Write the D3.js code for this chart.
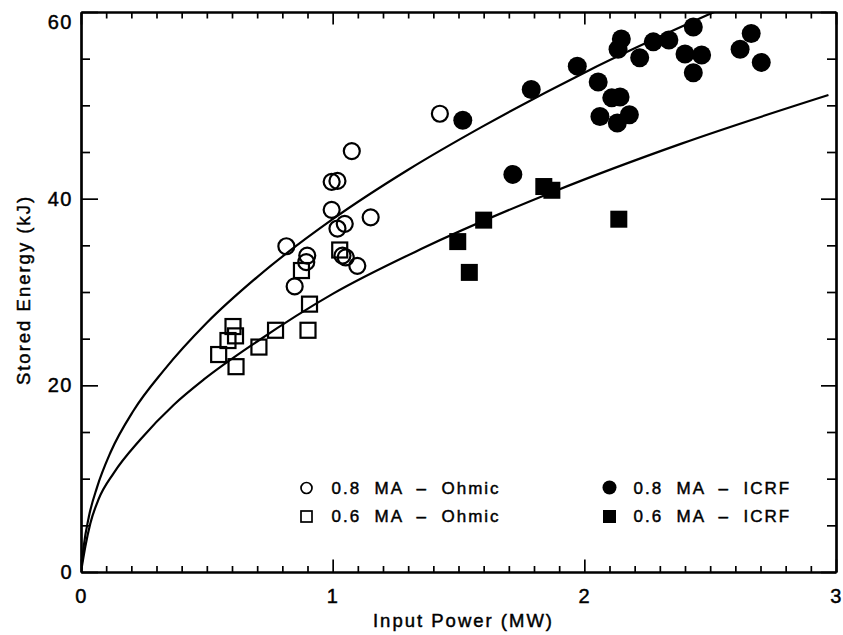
<!DOCTYPE html>
<html>
<head>
<meta charset="utf-8">
<script src="https://cdn.jsdelivr.net/npm/d3@7"></script>
<style>
  html, body { margin: 0; padding: 0; background: #fff; }
  svg text { font-family: "Liberation Sans", Arial, sans-serif; fill: #000; stroke: #000; stroke-width: 0.45px; }
</style>
</head>
<body>
<svg id="chart" width="843" height="635"></svg>
<script>
// --- data: [input power MW, stored energy kJ] ---
const ohmic08 = [[0.816, 34.9], [0.899, 33.9], [0.895, 33.2], [0.849, 30.6], [0.996, 38.8],
  [0.996, 41.8], [1.019, 41.9], [1.076, 45.1], [1.048, 37.3], [1.019, 36.8], [1.151, 38.0],
  [1.039, 33.9], [1.052, 33.7], [1.098, 32.8], [1.426, 49.1]];
const ohmic06 = [[1.028, 34.5], [0.876, 32.3], [0.908, 28.7], [0.902, 25.9], [0.773, 25.9],
  [0.707, 24.1], [0.604, 26.3], [0.614, 25.3], [0.584, 24.8], [0.547, 23.3], [0.616, 22.0]];
const icrf08 = [[1.517, 48.4], [1.789, 51.7], [1.972, 54.2], [2.055, 52.5], [2.147, 57.1],
  [2.134, 56.0], [2.220, 55.1], [2.274, 56.8], [2.336, 57.0], [2.433, 58.4], [2.400, 55.5],
  [2.466, 55.4], [2.433, 53.5], [2.619, 56.0], [2.663, 57.7], [2.703, 54.6], [2.109, 50.8],
  [2.142, 50.9], [2.062, 48.8], [2.179, 49.0], [2.131, 48.1], [1.716, 42.6]];
const icrf06 = [[1.497, 35.4], [1.543, 32.1], [1.600, 37.7], [1.839, 41.3], [1.871, 40.9], [2.137, 37.8]];

// fitted curves, points
const fit08 = [[0, 0], [0.011, 2.8], [0.031, 5.9], [0.064, 9.1], [0.117, 12.8], [0.209, 17.3],
  [0.329, 21.6], [0.5, 26.7], [0.7, 31.6], [1.0, 37.8], [1.3, 43.1], [1.6, 47.8],
  [2.0, 53.5], [2.5, 59.8], [2.55, 60.4]];
const fit06 = [[0, 0], [0.017, 2.7], [0.037, 5.2], [0.070, 7.8], [0.130, 10.6], [0.236, 14.2],
  [0.368, 17.9], [0.487, 20.6], [0.7, 24.7], [1.0, 29.8], [1.351, 34.6], [1.882, 40.8],
  [2.386, 45.9], [2.97, 51.1]];

const xTicks = [0, 1, 2, 3];
const yTicks = [0, 20, 40, 60];
const legendItems = [
  { label: "0.8  MA  \u2013  Ohmic", shape: "circle", filled: false },
  { label: "0.6  MA  \u2013  Ohmic", shape: "square", filled: false },
  { label: "0.8  MA  \u2013  ICRF", shape: "circle", filled: true },
  { label: "0.6  MA  \u2013  ICRF", shape: "square", filled: true }
];

// --- layout ---
const plotLeft = 81, plotRight = 836, plotTop = 12, plotBottom = 572;
const svg = d3.select("#chart");

const x = d3.scaleLinear().domain([0, 3]).range([plotLeft, plotRight]);
const y = d3.scaleLinear().domain([0, 60]).range([plotBottom, plotTop]);

const xMinor = d3.range(0, 3.001, 0.1).filter(v => Math.abs(v - Math.round(v)) > 1e-6);
const yMinor = d3.range(0, 60.001, 5).filter(v => v % 20 !== 0);

function styleAxis(g) {
  g.selectAll("path.domain").attr("stroke", "#000").attr("stroke-width", 2.2);
  g.selectAll(".tick line").attr("stroke", "#000").attr("stroke-width", 1.7);
  g.selectAll("text").attr("font-family", null).attr("font-size", 20)
    .style("letter-spacing", "1.5px");
}

// bottom
svg.append("g").attr("transform", `translate(0,${plotBottom})`)
  .call(d3.axisBottom(x).tickValues(xMinor).tickSize(-6).tickSizeOuter(0).tickFormat(""))
  .call(styleAxis);
svg.append("g").attr("transform", `translate(0,${plotBottom})`)
  .call(d3.axisBottom(x).tickValues(xTicks).tickSize(-12.5).tickSizeOuter(0).tickPadding(17)
    .tickFormat(d3.format("d")))
  .call(styleAxis);
// top
svg.append("g").attr("transform", `translate(0,${plotTop})`)
  .call(d3.axisTop(x).tickValues(xMinor).tickSize(-6.5).tickSizeOuter(0).tickFormat(""))
  .call(styleAxis);
svg.append("g").attr("transform", `translate(0,${plotTop})`)
  .call(d3.axisTop(x).tickValues(xTicks).tickSize(-12.5).tickSizeOuter(0).tickFormat(""))
  .call(styleAxis);
// left
svg.append("g").attr("transform", `translate(${plotLeft},0)`)
  .call(d3.axisLeft(y).tickValues(yMinor).tickSize(-9).tickSizeOuter(0).tickFormat(""))
  .call(styleAxis);
const yAxisG = svg.append("g").attr("transform", `translate(${plotLeft},0)`)
  .call(d3.axisLeft(y).tickValues(yTicks).tickSize(-17).tickSizeOuter(0).tickPadding(8)
    .tickFormat(d3.format("d")))
  .call(styleAxis);
yAxisG.selectAll(".tick text").filter(d => d === 60).attr("dy", "0.8em");
// right
svg.append("g").attr("transform", `translate(${plotRight},0)`)
  .call(d3.axisRight(y).tickValues(yMinor).tickSize(-9).tickSizeOuter(0).tickFormat(""))
  .call(styleAxis);
svg.append("g").attr("transform", `translate(${plotRight},0)`)
  .call(d3.axisRight(y).tickValues(yTicks).tickSize(-15).tickSizeOuter(0).tickFormat(""))
  .call(styleAxis);

// axis titles
svg.append("text")
  .attr("x", (plotLeft + plotRight) / 2 + 5).attr("y", 627)
  .attr("text-anchor", "middle").attr("font-size", 18.5)
  .style("letter-spacing", "2px")
  .text("Input Power (MW)");
svg.append("text")
  .attr("transform", `translate(30,${(plotTop + plotBottom) / 2 - 2}) rotate(-90)`)
  .attr("text-anchor", "middle").attr("font-size", 18.5)
  .style("letter-spacing", "2px")
  .text("Stored Energy (kJ)");

// fit curves, clipped to the frame
svg.append("clipPath").attr("id", "plot-clip")
  .append("rect").attr("x", plotLeft).attr("y", plotTop)
  .attr("width", plotRight - plotLeft).attr("height", plotBottom - plotTop);

const line = d3.line().x(d => x(d[0])).y(d => y(d[1])).curve(d3.curveMonotoneX);
const curves = svg.append("g").attr("clip-path", "url(#plot-clip)");
[fit08, fit06].forEach(pts => {
  curves.append("path").datum(pts)
    .attr("fill", "none").attr("stroke", "#000").attr("stroke-width", 2.2)
    .attr("d", line);
});

// markers
const marks = svg.append("g");
function drawCircles(data, filled, r) {
  marks.selectAll(null).data(data).enter().append("circle")
    .attr("cx", d => x(d[0])).attr("cy", d => y(d[1])).attr("r", r)
    .attr("fill", filled ? "#000" : "none")
    .attr("stroke", "#000").attr("stroke-width", filled ? 0 : 2.2);
}
function drawSquares(data, filled, s) {
  marks.selectAll(null).data(data).enter().append("rect")
    .attr("x", d => x(d[0]) - s / 2).attr("y", d => y(d[1]) - s / 2)
    .attr("width", s).attr("height", s)
    .attr("fill", filled ? "#000" : "none")
    .attr("stroke", "#000").attr("stroke-width", filled ? 0 : 2.2);
}
drawCircles(ohmic08, false, 8);
drawSquares(ohmic06, false, 15);
drawCircles(icrf08, true, 9.5);
drawSquares(icrf06, true, 17);

// legend
const legendPos = [
  { sx: 306.5, tx: 331.5, cy: 488, base: 493.5 },
  { sx: 306.5, tx: 331.5, cy: 516.5, base: 522 },
  { sx: 609.5, tx: 633.5, cy: 487.5, base: 493.5 },
  { sx: 609.5, tx: 633.5, cy: 516.5, base: 522 }
];
const legend = svg.append("g");
legendItems.forEach((item, i) => {
  const p = legendPos[i];
  if (item.shape === "circle") {
    const r = item.filled ? 7 : 5.5;
    legend.append("circle").attr("cx", p.sx).attr("cy", p.cy).attr("r", r)
      .attr("fill", item.filled ? "#000" : "none").attr("stroke", "#000")
      .attr("stroke-width", item.filled ? 0 : 1.7);
  } else {
    const s = item.filled ? 13 : 11;
    legend.append("rect").attr("x", p.sx - s / 2).attr("y", p.cy - s / 2)
      .attr("width", s).attr("height", s)
      .attr("fill", item.filled ? "#000" : "none").attr("stroke", "#000")
      .attr("stroke-width", item.filled ? 0 : 1.7);
  }
  legend.append("text").attr("x", p.tx).attr("y", p.base)
    .attr("font-size", 17).style("letter-spacing", "2px").style("white-space", "pre")
    .text(item.label);
});
</script>
</body>
</html>
